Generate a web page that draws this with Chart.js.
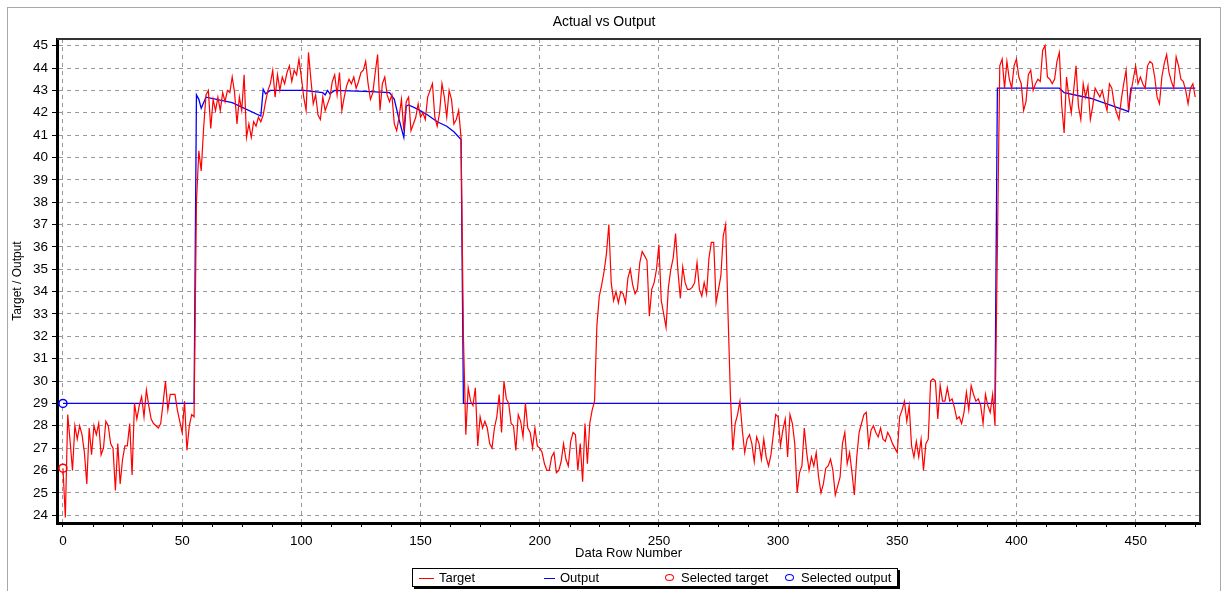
<!DOCTYPE html>
<html>
<head>
<meta charset="utf-8">
<script src="https://cdn.jsdelivr.net/npm/chart.js@4.4.1/dist/chart.umd.min.js"></script>
<style>
  html, body { margin: 0; padding: 0; background: #fff; overflow: hidden; }
  #wrap { position: relative; width: 1228px; height: 591px; }
  #frame { position: absolute; left: 7px; top: 7px; width: 1212px; height: 600px; border: 1px solid #a8a8a8; }
  #legend { position: absolute; left: 412px; top: 568px; width: 484px; height: 17px;
            border: 1px solid #000; box-shadow: 2px 2px 0 #000; background: #fff;
            font: 13px "Liberation Sans", Arial, sans-serif; }
  #legend .item { position: absolute; top: 1px; white-space: nowrap; }
  #legend .ln { position: absolute; top: 8px; height: 1px; }
  #legend .pt { position: absolute; top: 4px; width: 7px; height: 5px; border: 1.5px solid; border-radius: 50%; }
  #legend .tx { position: absolute; top: 0; }
</style>
</head>
<body>
<div id="wrap">
  <div id="frame"></div>
  <canvas id="chart"></canvas>
  <div id="legend"></div>
</div>
<script>
// target values, one per data row (rows 0..475)
const targetA = [ // rows 0-55
  26.1,23.9,28.5,27.3,26.0,28.0,27.4,28.0,27.6,26.8,
  25.4,27.9,26.7,28.0,27.6,28.1,26.7,27.0,28.2,28.0,
  27.2,27.0,25.1,27.2,25.4,26.5,27.1,27.1,28.1,25.8,
  29.0,28.3,28.9,29.3,28.4,29.6,28.9,28.3,28.1,28.0,
  27.9,28.1,29.0,30.0,28.7,29.4,29.4,29.4,28.7,28.2,
  27.7,29.1,26.9,28.0,28.5,28.4
];
const targetB = [ // rows 56-167
  38.0,40.3,39.4,41.3,42.8,43.0,41.3,42.6,42.1,42.7,
  42.1,42.9,42.5,43.0,42.9,43.6,42.9,41.5,42.7,42.1,
  43.7,40.9,41.5,40.9,41.6,41.4,41.8,41.6,41.9,42.5,
  43.0,43.3,43.9,42.7,43.7,43.0,43.6,43.3,43.8,44.1,
  43.4,43.9,43.7,44.4,43.6,42.7,42.1,44.7,43.5,42.4,
  42.8,41.9,41.7,42.7,42.1,42.4,42.7,43.4,43.7,42.8,
  43.8,42.1,42.7,43.2,43.5,43.3,43.6,43.1,43.4,43.8,
  43.9,44.3,43.3,42.6,42.9,43.8,44.6,42.1,43.3,43.6,
  42.8,42.5,42.8,41.5,41.2,41.8,42.6,41.2,42.5,42.7,
  41.2,41.5,41.8,42.4,41.8,42.0,41.7,42.7,43.0,43.3,
  41.8,41.4,42.0,43.3,42.7,41.8,43.0,42.6,41.5,41.7,
  42.1,40.9
];
const targetC = [ // rows 168-279
  32.0,27.6,29.7,29.1,28.9,29.7,27.1,28.4,27.9,28.2,
  27.9,27.2,27.0,27.9,28.4,29.4,27.7,30.0,29.2,29.0,
  28.1,28.0,26.9,28.5,28.2,27.5,29.0,27.9,27.7,27.0,
  27.9,27.1,27.0,26.8,26.3,26.0,26.0,26.6,26.8,25.9,
  26.0,26.4,27.2,26.5,26.2,27.3,27.7,27.6,26.0,27.2,
  25.5,28.1,26.3,28.1,28.7,29.1,32.5,33.8,34.3,34.9,
  35.7,37.0,34.4,33.6,34.0,33.5,34.0,33.9,33.5,34.6,
  35.0,34.3,33.9,34.1,35.3,35.8,35.6,35.4,32.9,34.1,
  34.4,35.0,36.1,33.6,33.0,32.4,34.2,35.0,35.5,36.6,
  34.9,33.7,35.1,34.4,34.1,34.1,34.2,34.4,35.3,34.1,
  33.8,34.4,33.9,35.5,36.2,36.2,33.5,34.1,34.7,36.5,
  37.0,33.0
];
const targetD = [ // rows 280-391
  29.4,26.9,28.1,28.5,29.1,27.8,26.8,27.4,27.6,27.2,
  26.4,27.5,27.2,26.5,27.4,26.6,26.2,26.7,27.6,28.5,
  28.4,27.1,27.8,28.3,26.6,28.5,28.1,27.2,25.0,25.9,
  26.2,27.9,26.8,26.0,26.6,26.2,26.8,25.7,25.0,25.4,
  26.1,26.2,26.5,26.0,24.9,25.3,25.7,27.2,27.7,26.3,
  26.8,25.9,24.9,26.6,27.7,28.1,28.5,28.6,27.1,27.8,
  28.0,27.7,27.5,27.9,27.4,27.3,27.7,27.5,27.2,27.0,
  26.8,28.4,28.7,29.1,28.2,28.9,27.1,26.6,27.3,26.6,
  27.4,26.0,27.2,27.4,30.0,30.1,30.0,28.3,29.8,29.1,
  29.1,29.7,29.1,29.2,28.8,28.3,28.4,28.1,28.6,29.5,
  28.7,29.8,29.4,29.1,29.2,28.9,28.1,29.4,28.9,28.6,
  29.4,28.0
];
const targetE = [ // rows 392-475
  36.0,44.1,44.4,43.1,44.3,43.5,43.1,44.1,44.4,43.6,
  43.3,42.1,42.5,43.7,43.9,43.0,43.3,43.5,43.4,44.8,
  45.0,43.6,43.5,43.3,43.5,44.3,44.7,42.3,41.1,43.6,
  42.7,42.0,43.0,44.1,42.3,41.7,43.3,42.7,43.2,41.7,
  42.3,43.1,42.9,42.7,43.0,42.5,42.1,43.3,43.1,42.4,
  42.0,41.7,42.6,43.3,43.9,42.1,42.9,43.5,44.1,43.3,
  43.6,43.3,43.1,44.1,44.3,44.2,43.6,42.7,42.4,43.6,
  44.2,44.6,43.8,43.4,43.1,44.5,44.1,43.5,43.4,43.0,
  42.4,43.1,43.3,42.7
];
const targetValues = targetA.concat(targetB, targetC, targetD, targetE);

// model output: rows where its value changes, and the value there
const outputRows   = [0, 55, 56, 57, 58, 60, 71, 83, 84, 85, 87, 101, 109, 110, 111, 112, 114, 129, 137, 139, 141, 143, 144, 145, 149, 153, 157, 161, 164, 167, 168, 391, 392, 418, 420, 431, 446, 447, 448, 475];
const outputValues = [29, 29, 42.8, 42.6, 42.2, 42.7, 42.45, 41.85, 43.05, 42.85, 43.0, 43.0, 42.9, 42.8, 43.0, 42.85, 43.0, 42.95, 42.9, 42.6, 41.7, 40.9, 42.3, 42.35, 42.15, 41.9, 41.6, 41.4, 41.15, 40.8, 29, 29, 43.1, 43.1, 42.9, 42.65, 42.1, 42.05, 43.1, 43.1];

// selected row
const selectedRow = 0;
const selectedTarget = 26.1;
const selectedOutput = 29;

const yMin = 23.65, yMax = 45.3;
const xMin = -2.5, xMax = 477;
const xMinorStep = 12.5;

const targetPts = targetValues.map((v, i) => ({x: i, y: v}));
const outputPts = outputRows.map((r, i) => ({x: r, y: outputValues[i]}));

// thin top/right border of the plot plus the small minor ticks under the x axis
const frame = {
  id: 'frame',
  afterDraw(chart) {
    const {ctx, chartArea: a} = chart;
    const xs = chart.scales.x;
    ctx.save();
    ctx.strokeStyle = '#333';
    ctx.lineWidth = 2;
    ctx.beginPath();
    ctx.moveTo(a.left, a.top);
    ctx.lineTo(a.right, a.top);
    ctx.lineTo(a.right, a.bottom);
    ctx.stroke();
    ctx.strokeStyle = '#000';
    ctx.lineWidth = 1;
    ctx.beginPath();
    for (let v = 0; v <= xMax; v += xMinorStep) {
      if (v % 50 === 0) continue;
      const px = Math.round(xs.getPixelForValue(v)) + 0.5;
      ctx.moveTo(px, a.bottom);
      ctx.lineTo(px, a.bottom + 4);
    }
    ctx.stroke();
    ctx.restore();
  }
};

const family = '"Liberation Sans", Arial, sans-serif';
const tickFont = {family: family, size: 13.5};

const chart = new Chart(document.getElementById('chart'), {
  type: 'line',
  data: {
    datasets: [
      {label: 'Target', data: targetPts, borderColor: '#ff0000', borderWidth: 1.2, pointRadius: 0, tension: 0},
      {label: 'Output', data: outputPts, borderColor: '#0000ff', borderWidth: 1.3, pointRadius: 0, tension: 0},
      {label: 'Selected target', data: [{x: selectedRow, y: selectedTarget}], showLine: false,
       pointRadius: 4, pointStyle: 'circle', borderColor: '#ff0000', backgroundColor: '#fff', borderWidth: 1.5},
      {label: 'Selected output', data: [{x: selectedRow, y: selectedOutput}], showLine: false,
       pointRadius: 4, pointStyle: 'circle', borderColor: '#0000ff', backgroundColor: '#fff', borderWidth: 1.5}
    ]
  },
  options: {
    responsive: true,
    maintainAspectRatio: false,
    animation: false,
    layout: {padding: {left: 8, right: 28, top: 0, bottom: 26}},
    plugins: {
      legend: {display: false},
      tooltip: {enabled: false},
      title: {
        display: true,
        text: 'Actual vs Output',
        color: '#000',
        font: {family: family, size: 14, weight: 'normal'},
        padding: {top: 13.5, bottom: 8.7}
      }
    },
    scales: {
      x: {
        type: 'linear',
        min: xMin,
        max: xMax,
        afterFit: s => { s.height = 42; },
        ticks: {stepSize: 50, includeBounds: false, autoSkip: false, maxRotation: 0,
                color: '#000', font: tickFont, padding: 6},
        grid: {color: '#999', tickColor: '#000', tickLength: 4},
        border: {display: true, color: '#000', width: 3, dash: [4, 4]},
        title: {display: true, text: 'Data Row Number', color: '#000', font: {family: family, size: 13}, padding: {top: 0, bottom: 4}}
      },
      y: {
        type: 'linear',
        min: yMin,
        max: yMax,
        afterFit: s => { s.width = 49; },
        ticks: {stepSize: 1, includeBounds: false, autoSkip: false, color: '#000', font: tickFont, padding: 4},
        grid: {color: '#999', tickColor: '#000', tickLength: 5},
        border: {display: true, color: '#000', width: 3, dash: [4, 4]},
        title: {display: true, text: 'Target / Output', color: '#000', font: {family: family, size: 12}, padding: {top: 2, bottom: 0}}
      }
    }
  },
  plugins: [frame]
});

// legend box under the chart, built from the datasets
const legendPos = [6, 131, 251, 371];
const legend = document.getElementById('legend');
chart.data.datasets.forEach((ds, i) => {
  const item = document.createElement('div');
  item.className = 'item';
  item.style.left = legendPos[i] + 'px';
  const mark = document.createElement('span');
  if (ds.showLine === false) {
    mark.className = 'pt';
    mark.style.left = '1px';
    mark.style.borderColor = ds.borderColor;
  } else {
    mark.className = 'ln';
    mark.style.left = '0px';
    mark.style.width = (i === 0 ? 15 : 11) + 'px';
    mark.style.background = ds.borderColor;
  }
  const tx = document.createElement('span');
  tx.className = 'tx';
  tx.style.left = (ds.showLine === false ? 17 : (i === 0 ? 20 : 16)) + 'px';
  tx.textContent = ds.label;
  item.appendChild(mark);
  item.appendChild(tx);
  legend.appendChild(item);
});
</script>
</body>
</html>
